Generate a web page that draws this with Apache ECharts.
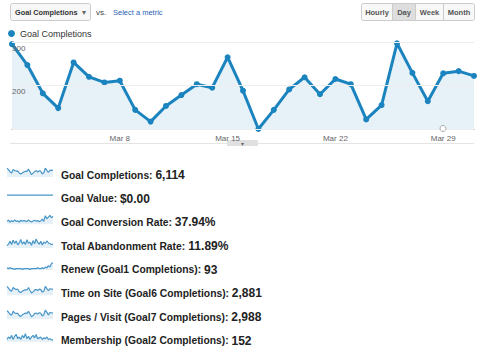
<!DOCTYPE html>
<html>
<head>
<meta charset="utf-8">
<script src="https://cdn.jsdelivr.net/npm/echarts@6/dist/echarts.min.js"></script>
<style>
  html, body { margin: 0; padding: 0; background: #fff; }
  #chart { width: 484px; height: 354px; }
</style>
</head>
<body>
<div id="chart"></div>
<script>
// days of March
const days = ['Mar 1','Mar 2','Mar 3','Mar 4','Mar 5','Mar 6','Mar 7','Mar 8','Mar 9','Mar 10',
  'Mar 11','Mar 12','Mar 13','Mar 14','Mar 15','Mar 16','Mar 17','Mar 18','Mar 19','Mar 20',
  'Mar 21','Mar 22','Mar 23','Mar 24','Mar 25','Mar 26','Mar 27','Mar 28','Mar 29','Mar 30','Mar 31']
const shownDays = ['Mar 8', 'Mar 15', 'Mar 22', 'Mar 29']

// main series
const goalCompletions = [295, 247, 182, 148, 253, 220, 207, 211, 144, 117, 153, 178, 203, 195, 265, 188,
  100, 144, 191, 219, 180, 215, 203, 122, 155, 297, 229, 164, 228, 233, 222]
const yTicks = [100, 200, 300]

// scorecard rows
const rowLabels = ['Goal Completions', 'Goal Value', 'Goal Conversion Rate', 'Total Abandonment Rate',
  'Renew (Goal1 Completions)', 'Time on Site (Goal6 Completions)', 'Pages / Visit (Goal7 Completions)',
  'Membership (Goal2 Completions)']
const rowTotals = ['6,114', '$0.00', '37.94%', '11.89%', '93', '2,881', '2,988', '152']

// sparklines (one per row)
const sparkValue = [0,0,0,0,0,0,0,0,0,0,0,0,0,0,0,0,0,0,0,0,0,0,0,0,0,0,0,0,0,0,0]
const sparkConv = [37.2,37.5,37.0,37.4,37.1,37.6,37.2,37.3,37.0,37.5,37.2,37.4,37.3,37.1,37.6,37.2,
  37.0,37.3,37.5,37.2,37.4,37.1,37.3,37.8,37.2,38.8,37.9,38.4,38.9,38.2,38.6]
const sparkAband = [11.2,11.6,12.3,11.5,12.6,11.8,12.4,11.4,11.9,12.8,11.6,12.2,11.5,12.7,11.8,12.1,
  11.3,12.5,11.7,12.9,12.0,11.6,12.3,11.4,12.1,11.8,12.4,11.9,11.7,11.5,11.6]
const sparkRenew = [3,2,3,2,2,1,2,2,2,2,1,2,2,2,2,1,2,2,2,2,3,2,2,3,2,4,3,6,4,9,10]
const sparkTime = [128,112,88,80,118,104,98,99,72,66,78,88,95,92,118,86,60,72,90,98,86,100,96,70,78,
  130,106,84,104,102,98]
const sparkPages = [130,110,86,76,122,100,96,98,70,62,80,90,100,96,120,90,58,70,94,102,88,104,98,66,80,
  136,108,80,106,104,100]
const sparkMember = [3,6,4,8,3,7,9,4,6,3,8,5,10,4,7,3,6,8,5,9,4,5,6,3,5,4,6,3,4,3,2]
const sparklines = [goalCompletions, sparkValue, sparkConv, sparkAband, sparkRenew, sparkTime, sparkPages, sparkMember]

const blue = '#1b84bf'
const chart = echarts.init(document.getElementById('chart'), null, { renderer: 'svg' })

const grids = [{ left: 12, right: 10, top: 42, height: 87 }]
const xAxes = [{
  type: 'category', gridIndex: 0, data: days, boundaryGap: false,
  axisLine: { lineStyle: { color: '#777', width: 1 } },
  axisTick: { show: false },
  axisLabel: {
    interval: (i, v) => shownDays.includes(v),
    fontSize: 8, color: '#666', margin: 5, fontFamily: 'Liberation Sans'
  }
}]
const yAxes = [{
  type: 'value', gridIndex: 0, min: yTicks[0], max: yTicks[2], interval: yTicks[1] - yTicks[0],
  z: 5,
  axisLine: { show: false }, axisTick: { show: false },
  axisLabel: {
    inside: true, margin: 0, showMinLabel: false, verticalAlign: 'top',
    padding: [2, 0, 0, 0], fontSize: 8, color: '#666', fontFamily: 'Liberation Sans'
  },
  splitLine: { lineStyle: { color: '#eeeeee' } }
}]
const series = [{
  name: 'Goal Completions', type: 'line', xAxisIndex: 0, yAxisIndex: 0,
  data: goalCompletions, symbol: 'circle', symbolSize: 6, showSymbol: true,
  lineStyle: { color: blue, width: 3 },
  itemStyle: { color: blue },
  areaStyle: { color: '#e6f1f8', opacity: 1 },
  z: 3
}]

const graphics = []
const rowStart = 175, rowStep = 23.67
sparklines.forEach((d, i) => {
  const cy = rowStart + i * rowStep
  const k = i + 1
  grids.push({ left: 7, width: 46, top: cy - 7, height: 9 })
  xAxes.push({ type: 'category', gridIndex: k, data: days, boundaryGap: false, show: false })
  yAxes.push({
    type: 'value', gridIndex: k, show: false, scale: true,
    min: v => v.max === v.min ? v.min - 1 : v.min - (v.max - v.min) * 0.35,
    max: v => v.max === v.min ? v.max + 0.6 : v.max
  })
  series.push({
    type: 'line', xAxisIndex: k, yAxisIndex: k, data: d, showSymbol: false, silent: true,
    lineStyle: { color: '#4896c8', width: 1.2 },
    areaStyle: { color: '#e6f0f7', opacity: 1 }
  })
  graphics.push({
    type: 'text', left: 61, top: cy - 6,
    style: {
      text: '{a|' + rowLabels[i] + ': }{b|' + rowTotals[i] + '}',
      rich: {
        a: { fontSize: 10.3, fontWeight: 'bold', fill: '#222', fontFamily: 'Liberation Sans' },
        b: { fontSize: 12, fontWeight: 'bold', fill: '#222', fontFamily: 'Liberation Sans' }
      }
    }
  })
})

// controls above the chart
graphics.push(
  { type: 'rect', shape: { x: 10.5, y: 3.5, width: 80, height: 17, r: 2 },
    style: { fill: '#f7f7f7', stroke: '#cccccc' } },
  { type: 'text', x: 15, y: 12, style: { text: 'Goal Completions', font: 'bold 7.3px Liberation Sans', fill: '#333', verticalAlign: 'middle' } },
  { type: 'text', x: 82, y: 12, style: { text: '▾', font: '8px DejaVu Sans', fill: '#666', verticalAlign: 'middle' } },
  { type: 'text', x: 96, y: 12, style: { text: 'vs.', font: '8px Liberation Sans', fill: '#444', verticalAlign: 'middle' } },
  { type: 'text', x: 113, y: 12, style: { text: 'Select a metric', font: '7.5px Liberation Sans', fill: '#2b5fb4', verticalAlign: 'middle' } },
  { type: 'rect', shape: { x: 361.5, y: 3.5, width: 113, height: 17, r: 2 },
    style: { fill: '#f8f8f8', stroke: '#cccccc' } },
  { type: 'rect', shape: { x: 392.5, y: 4, width: 23, height: 16 }, style: { fill: '#dedede' } },
  { type: 'line', shape: { x1: 392.5, y1: 4, x2: 392.5, y2: 20 }, style: { stroke: '#cccccc' } },
  { type: 'line', shape: { x1: 415.5, y1: 4, x2: 415.5, y2: 20 }, style: { stroke: '#cccccc' } },
  { type: 'line', shape: { x1: 443.5, y1: 4, x2: 443.5, y2: 20 }, style: { stroke: '#cccccc' } },
  { type: 'text', x: 377, y: 12, style: { text: 'Hourly', font: 'bold 7.5px Liberation Sans', fill: '#555', align: 'center', verticalAlign: 'middle' } },
  { type: 'text', x: 404, y: 12, style: { text: 'Day', font: 'bold 7.5px Liberation Sans', fill: '#555', align: 'center', verticalAlign: 'middle' } },
  { type: 'text', x: 429.5, y: 12, style: { text: 'Week', font: 'bold 7.5px Liberation Sans', fill: '#555', align: 'center', verticalAlign: 'middle' } },
  { type: 'text', x: 459, y: 12, style: { text: 'Month', font: 'bold 7.5px Liberation Sans', fill: '#555', align: 'center', verticalAlign: 'middle' } },
  // footer line and drag tab under the axis
  { type: 'line', shape: { x1: 10, y1: 143.5, x2: 474, y2: 143.5 }, style: { stroke: '#e4e4e4' } },
  { type: 'rect', shape: { x: 227, y: 140, width: 31, height: 6, r: 1 }, style: { fill: '#e0e0e0' } },
  { type: 'text', x: 242.5, y: 143, style: { text: '▾', font: '6px DejaVu Sans', fill: '#666', align: 'center', verticalAlign: 'middle' } },
  { type: 'circle', shape: { cx: 443, cy: 128.5, r: 3 }, style: { fill: '#fff', stroke: '#aaa' }, z: 10 }
)

chart.setOption({
  animation: false,
  legend: {
    data: ['Goal Completions'], left: 8, top: 29, padding: 0, icon: 'circle',
    itemWidth: 7, itemHeight: 7, itemGap: 4,
    textStyle: { fontSize: 9, color: '#333', fontFamily: 'Liberation Sans' }
  },
  grid: grids,
  xAxis: xAxes,
  yAxis: yAxes,
  series: series,
  graphic: graphics
})
</script>
</body>
</html>
